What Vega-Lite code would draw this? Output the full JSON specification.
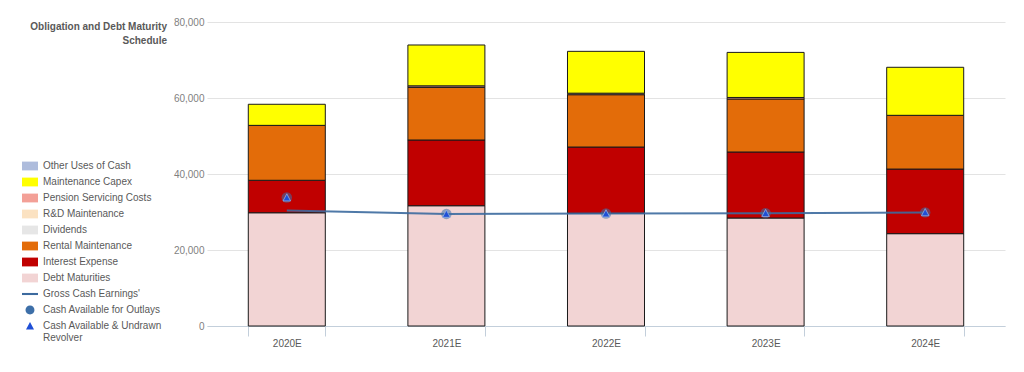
{
  "$schema": "https://vega.github.io/schema/vega-lite/v6.json",
  "width": 798,
  "height": 304,
  "autosize": {"type": "none"},
  "padding": {"left": 207, "top": 22, "right": 19, "bottom": 46},
  "background": "white",
  "config": {"view": {"stroke": null}, "font": "Liberation Sans"},
  "title": {
    "text": ["Obligation and Debt Maturity", "Schedule"],
    "anchor": "start",
    "frame": "group",
    "orient": "top",
    "align": "right",
    "baseline": "top",
    "dx": -40,
    "dy": 29,
    "offset": 0,
    "fontSize": 10,
    "fontWeight": "bold",
    "color": "#595959",
    "lineHeight": 14
  },
  "datasets": {
    "bars": [
      {"year": "2020E", "series": "Debt Maturities", "value": 29800},
      {"year": "2020E", "series": "Interest Expense", "value": 8550},
      {"year": "2020E", "series": "Rental Maintenance", "value": 14450},
      {"year": "2020E", "series": "Maintenance Capex", "value": 5550},
      {"year": "2021E", "series": "Debt Maturities", "value": 31650},
      {"year": "2021E", "series": "Interest Expense", "value": 17300},
      {"year": "2021E", "series": "Rental Maintenance", "value": 13850},
      {"year": "2021E", "series": "Pension Servicing Costs", "value": 400},
      {"year": "2021E", "series": "Maintenance Capex", "value": 10750},
      {"year": "2022E", "series": "Debt Maturities", "value": 29650},
      {"year": "2022E", "series": "Interest Expense", "value": 17450},
      {"year": "2022E", "series": "Rental Maintenance", "value": 13770},
      {"year": "2022E", "series": "Pension Servicing Costs", "value": 400},
      {"year": "2022E", "series": "Maintenance Capex", "value": 11010},
      {"year": "2023E", "series": "Debt Maturities", "value": 28420},
      {"year": "2023E", "series": "Interest Expense", "value": 17370},
      {"year": "2023E", "series": "Rental Maintenance", "value": 13950},
      {"year": "2023E", "series": "Pension Servicing Costs", "value": 400},
      {"year": "2023E", "series": "Maintenance Capex", "value": 11860},
      {"year": "2024E", "series": "Debt Maturities", "value": 24300},
      {"year": "2024E", "series": "Interest Expense", "value": 17000},
      {"year": "2024E", "series": "Rental Maintenance", "value": 14140},
      {"year": "2024E", "series": "Maintenance Capex", "value": 12640}
    ],
    "lines": [
      {"year": "2020E", "series": "Gross Cash Earnings'", "value": 30400},
      {"year": "2021E", "series": "Gross Cash Earnings'", "value": 29500},
      {"year": "2022E", "series": "Gross Cash Earnings'", "value": 29600},
      {"year": "2023E", "series": "Gross Cash Earnings'", "value": 29700},
      {"year": "2024E", "series": "Gross Cash Earnings'", "value": 29900},
      {"year": "2020E", "series": "Cash Available for Outlays", "value": 33800},
      {"year": "2021E", "series": "Cash Available for Outlays", "value": 29500},
      {"year": "2022E", "series": "Cash Available for Outlays", "value": 29600},
      {"year": "2023E", "series": "Cash Available for Outlays", "value": 29700},
      {"year": "2024E", "series": "Cash Available for Outlays", "value": 29900},
      {"year": "2020E", "series": "Cash Available & Undrawn Revolver", "value": 33800},
      {"year": "2021E", "series": "Cash Available & Undrawn Revolver", "value": 29500},
      {"year": "2022E", "series": "Cash Available & Undrawn Revolver", "value": 29600},
      {"year": "2023E", "series": "Cash Available & Undrawn Revolver", "value": 29700},
      {"year": "2024E", "series": "Cash Available & Undrawn Revolver", "value": 29900}
    ]
  },
  "encoding": {
    "x": {
      "field": "year",
      "type": "nominal",
      "scale": {"paddingInner": 0.5175, "paddingOuter": 0.25875},
      "axis": {
        "title": null,
        "labelAngle": 0,
        "tickBand": "extent",
        "domainColor": "#c3cfdb",
        "tickColor": "#c3cfdb",
        "tickSize": 10,
        "labelColor": "#595959",
        "labelFontSize": 10,
        "labelPadding": 2,
        "grid": false
      }
    },
    "y": {
      "field": "value",
      "type": "quantitative",
      "scale": {"domain": [0, 80000], "nice": false},
      "axis": {
        "title": null,
        "values": [0, 20000, 40000, 60000, 80000],
        "format": ",.0f",
        "grid": true,
        "gridColor": "#e3e3e3",
        "domain": false,
        "ticks": false,
        "labelColor": "#7f7f7f",
        "labelFontSize": 10,
        "labelPadding": 3
      }
    }
  },
  "layer": [
    {
      "data": {"name": "bars"},
      "transform": [
        {"calculate": "indexof(['Debt Maturities','Interest Expense','Rental Maintenance','Dividends','R&D Maintenance','Pension Servicing Costs','Maintenance Capex','Other Uses of Cash'], datum.series)", "as": "k"}
      ],
      "mark": {"type": "bar", "stroke": "#1a1a1a", "strokeWidth": 1},
      "encoding": {
        "color": {
          "field": "series",
          "type": "nominal",
          "scale": {
            "domain": ["Other Uses of Cash", "Maintenance Capex", "Pension Servicing Costs", "R&D Maintenance", "Dividends", "Rental Maintenance", "Interest Expense", "Debt Maturities", "Gross Cash Earnings'", "Cash Available for Outlays", "Cash Available & Undrawn Revolver"],
            "range": ["#aebcdc", "#ffff00", "#f3a097", "#fbe2c2", "#e6e6e6", "#e36c09", "#c00000", "#f2d4d4", "#3c6a9e", "#3d6fa8", "#1f4fd6"]
          },
          "legend": {
            "title": null,
            "orient": "none",
            "legendX": -185,
            "legendY": 136,
            "labelFontSize": 10,
            "labelColor": "#595959",
            "labelFont": "Liberation Sans",
            "gridAlign": "none",
            "rowPadding": 3,
            "labelOffset": 5,
            "symbolSize": 256,
            "symbolStrokeWidth": 0,
            "labelLimit": 200,
            "labelExpr": "datum.label == 'Cash Available & Undrawn Revolver' ? ['Cash Available & Undrawn', 'Revolver'] : datum.label"
          }
        },
        "order": {"field": "k", "type": "quantitative"}
      }
    },
    {
      "data": {"name": "lines"},
      "transform": [{"filter": "datum.series == \"Gross Cash Earnings'\""}],
      "mark": {"type": "line", "strokeWidth": 2, "opacity": 0.9},
      "encoding": {
        "color": {"field": "series", "type": "nominal", "legend": null}
      }
    },
    {
      "data": {"name": "lines"},
      "transform": [{"filter": "datum.series == 'Cash Available for Outlays'"}],
      "mark": {"type": "point", "shape": "circle", "filled": true, "size": 110, "opacity": 0.55},
      "encoding": {
        "color": {"field": "series", "type": "nominal", "legend": null}
      }
    },
    {
      "data": {"name": "lines"},
      "transform": [{"filter": "datum.series == 'Cash Available & Undrawn Revolver'"}],
      "mark": {"type": "point", "filled": true, "size": 230, "opacity": 1, "stroke": "#8fb0e6", "strokeWidth": 0.8},
      "encoding": {
        "color": {"field": "series", "type": "nominal", "legend": null},
        "shape": {
          "field": "series",
          "type": "nominal",
          "scale": {
            "domain": ["Other Uses of Cash", "Maintenance Capex", "Pension Servicing Costs", "R&D Maintenance", "Dividends", "Rental Maintenance", "Interest Expense", "Debt Maturities", "Gross Cash Earnings'", "Cash Available for Outlays", "Cash Available & Undrawn Revolver"],
            "range": ["M-1,-0.55H1V0.55H-1Z", "M-1,-0.55H1V0.55H-1Z", "M-1,-0.55H1V0.55H-1Z", "M-1,-0.55H1V0.55H-1Z", "M-1,-0.55H1V0.55H-1Z", "M-1,-0.55H1V0.55H-1Z", "M-1,-0.55H1V0.55H-1Z", "M-1,-0.55H1V0.55H-1Z", "M-1,-0.13H1V0.13H-1Z", "M-0.56,0A0.56,0.56 0 1,0 0.56,0A0.56,0.56 0 1,0 -0.56,0Z", "M0,-0.5L0.5,0.45L-0.5,0.45Z"]
          },
          "legend": {
            "title": null,
            "orient": "none",
            "legendX": -185,
            "legendY": 136,
            "labelFontSize": 10,
            "labelColor": "#595959",
            "labelFont": "Liberation Sans",
            "gridAlign": "none",
            "rowPadding": 3,
            "labelOffset": 5,
            "symbolSize": 256,
            "symbolStrokeWidth": 0,
            "labelLimit": 200,
            "labelExpr": "datum.label == 'Cash Available & Undrawn Revolver' ? ['Cash Available & Undrawn', 'Revolver'] : datum.label"
          }
        }
      }
    }
  ]
}
